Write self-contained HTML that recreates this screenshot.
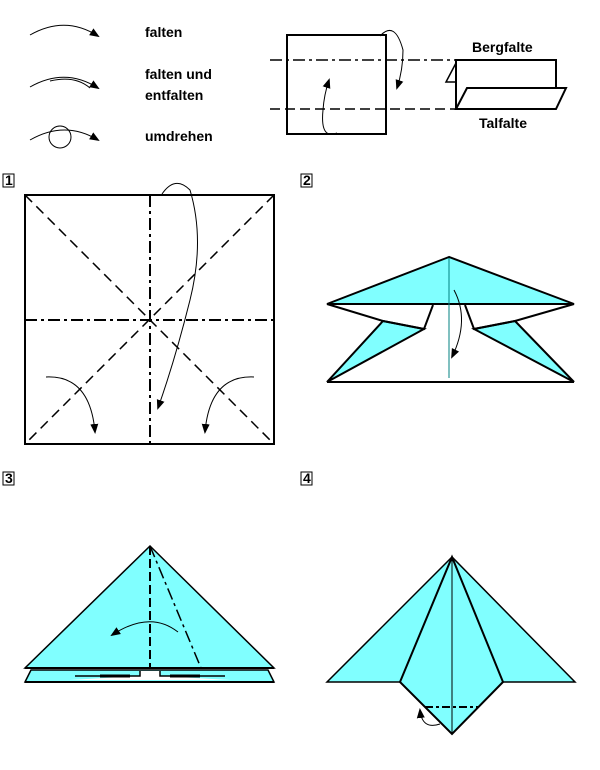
<!DOCTYPE html>
<html><head><meta charset="utf-8"><style>
body{margin:0;background:#fff}
svg{display:block}
text{font-family:"Comic Sans MS","Liberation Sans",sans-serif;font-weight:bold;font-size:14px;fill:#000}
</style></head><body>
<svg width="600" height="770" viewBox="0 0 600 770" xmlns="http://www.w3.org/2000/svg">
<defs>
<marker id="a" markerWidth="10" markerHeight="10" refX="8" refY="5" orient="auto" markerUnits="userSpaceOnUse"><path d="M0,1 L10,5 L0,9 Z" fill="#000"/></marker>
</defs>
<g fill="none" stroke="#000" stroke-width="1">
<path d="M30,35 Q65,15 98,36" marker-end="url(#a)"/>
<path d="M30,87 Q65,67 98,88" marker-end="url(#a)"/>
<path d="M50,81 Q75,75 90,88"/>
<path d="M30,140 Q65,120 98,140" marker-end="url(#a)"/>
<circle cx="60" cy="137" r="11"/>
</g>
<text x="145" y="37">falten</text>
<text x="145" y="79">falten und</text>
<text x="145" y="100">entfalten</text>
<text x="145" y="141">umdrehen</text>
<g fill="none" stroke="#000">
<rect x="287" y="35" width="99" height="99" stroke-width="2"/>
<line x1="270" y1="60" x2="455" y2="60" stroke-width="1.5" stroke-dasharray="12,4,3,4"/>
<line x1="270" y1="109" x2="455" y2="109" stroke-width="1.5" stroke-dasharray="10,5"/>
<path d="M380,36 Q395,20 403,50 Q403,70 397,88" marker-end="url(#a)"/>
<path d="M337,133 Q320,140 323,110 Q324,95 329,80" marker-end="url(#a)"/>
<path d="M456,109 L456,60 L556,60 L556,88" stroke-width="2"/>
<path d="M456,63 L446,82 L456,82" stroke-width="1.5"/>
<path d="M467,88 L566,88 L556,109 L456,109 Z" stroke-width="2" fill="#fff"/>
</g>
<text x="472" y="52">Bergfalte</text>
<text x="479" y="128">Talfalte</text>
<g>
<rect x="3" y="174" width="11" height="13" fill="none" stroke="#000"/><text x="5" y="185" font-size="12">1</text>
<rect x="301" y="174" width="11" height="13" fill="none" stroke="#000"/><text x="303" y="185" font-size="12">2</text>
<rect x="3" y="472" width="11" height="13" fill="none" stroke="#000"/><text x="5" y="483" font-size="12">3</text>
<rect x="301" y="472" width="11" height="13" fill="none" stroke="#000"/><text x="303" y="483" font-size="12">4</text>
</g>
<g fill="none" stroke="#000">
<rect x="25" y="195" width="249" height="249" stroke-width="2"/>
<line x1="25" y1="195" x2="274" y2="444" stroke-width="1.5" stroke-dasharray="10,6"/>
<line x1="274" y1="195" x2="25" y2="444" stroke-width="1.5" stroke-dasharray="10,6"/>
<line x1="150" y1="195" x2="150" y2="444" stroke-width="2" stroke-dasharray="12,4,3,4"/>
<line x1="25" y1="320" x2="274" y2="320" stroke-width="2" stroke-dasharray="12,4,3,4"/>
<path d="M162,194 Q175,175 190,190 Q205,240 190,300 Q175,360 158,408" marker-end="url(#a)"/>
<path d="M46,377 Q90,375 95,432" marker-end="url(#a)"/>
<path d="M254,377 Q210,375 205,432" marker-end="url(#a)"/>
</g>
<g stroke="#000" stroke-width="2">
<polygon points="383,321 424,329 327,382" fill="#80ffff"/>
<polygon points="515,321 474,329 574,382" fill="#80ffff"/>
<polyline points="327,304 383,321 424,329 433,305" fill="none"/>
<polyline points="574,304 515,321 474,329 465,305" fill="none"/>
<line x1="327" y1="382" x2="574" y2="382"/>
<polygon points="449,257 327,304 574,304" fill="#80ffff"/>
</g>
<line x1="449" y1="258" x2="449" y2="378" stroke="#008080" stroke-width="1"/>
<path d="M454,290 Q470,320 452,357" fill="none" stroke="#000" marker-end="url(#a)"/>
<g stroke="#000">
<polygon points="25,682 31,670 268,670 274,682" fill="#80ffff" stroke-width="1.5"/>
<polygon points="70,680 140,676 140,671 160,671 160,676 230,680" fill="#fff" stroke="none"/>
<polyline points="75,676 140,676 140,671" fill="none" stroke-width="1.5"/>
<polyline points="225,676 160,676 160,671" fill="none" stroke-width="1.5"/>
<line x1="100" y1="676" x2="130" y2="676" stroke-width="3"/>
<line x1="170" y1="676" x2="200" y2="676" stroke-width="3"/>
<line x1="25" y1="682" x2="274" y2="682" stroke-width="2"/>
<polygon points="150,546 25,668 274,668" fill="#80ffff" stroke-width="1.5"/>
<line x1="25" y1="668" x2="274" y2="668" stroke-width="2"/>
<line x1="150" y1="546" x2="150" y2="668" stroke-width="2" stroke-dasharray="9,4"/>
<line x1="150" y1="546" x2="201" y2="668" stroke-width="1.5" stroke-dasharray="12,4,3,4"/>
<path d="M178,632 Q150,610 112,635" fill="none" stroke-width="1" marker-end="url(#a)"/>
</g>
<g stroke="#000" stroke-width="1.5" fill="#80ffff">
<polygon points="452,557 327,682 575,682"/>
<polygon points="452,557 400,682 452,734 503,682" stroke-width="2"/>
<line x1="452" y1="557" x2="452" y2="734" stroke-width="1"/>
<line x1="425" y1="707" x2="478" y2="707" stroke-width="2" stroke-dasharray="8,3,3,3"/>
<path d="M440,724 Q422,730 420,710" fill="none" stroke-width="1" marker-end="url(#a)"/>
</g>
</svg>
</body></html>
